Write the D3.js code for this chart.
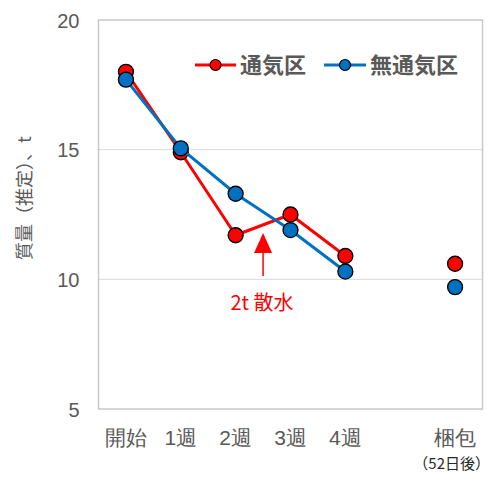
<!DOCTYPE html>
<html>
<head>
<meta charset="utf-8">
<script src="https://cdn.jsdelivr.net/npm/d3@7/dist/d3.min.js"></script>
<style>
  html, body { margin: 0; padding: 0; background: #fff; }
  svg { display: block; font-family: "Noto Sans CJK JP", "Noto Sans", sans-serif; }
</style>
</head>
<body>
<svg id="chart" width="492" height="477"></svg>
<script>
// Categories (an empty slot separates 4週 from 梱包)
const categories = ["開始", "1週", "2週", "3週", "4週", "", "梱包"];
const seriesNames = ["通気区", "無通気区"];
const ventilated   = [18.0, 14.9, 11.7, 12.5, 10.9, null, 10.6];
const unventilated = [17.7, 15.05, 13.3, 11.9, 10.3, null, 9.7];
const yTicks = [5, 10, 15, 20];
const colors = ["#FF0000", "#0070C0"];

const svg = d3.select("#chart");
const plot = { left: 98.5, right: 482.5, top: 20, bottom: 409 };

const x = d3.scaleBand().domain(d3.range(categories.length))
  .range([plot.left, plot.right]).padding(0);
const cx = i => x(i) + x.bandwidth() / 2;
const y = d3.scaleLinear().domain([5, 20]).range([plot.bottom, plot.top]);

// Gridlines
svg.append("g").selectAll("line").data(yTicks.filter(t => t > 5 && t < 20)).join("line")
  .attr("x1", plot.left).attr("x2", plot.right)
  .attr("y1", d => y(d)).attr("y2", d => y(d))
  .attr("stroke", "#d9d9d9").attr("stroke-width", 1);

// Plot frame
svg.append("rect")
  .attr("x", plot.left).attr("y", plot.top)
  .attr("width", plot.right - plot.left).attr("height", plot.bottom - plot.top)
  .attr("fill", "none").attr("stroke", "#c8c8c8").attr("stroke-width", 1.5);

// Y axis labels
const yAxis = d3.axisLeft(y).tickValues(yTicks).tickSize(0).tickPadding(19);
svg.append("g").attr("transform", `translate(${plot.left},0)`).call(yAxis)
  .call(g => g.select(".domain").remove())
  .call(g => g.selectAll("text").attr("font-size", 20).attr("fill", "#595959")
    .attr("dy", "0.36em"));

// X axis labels
const xAxis = d3.axisBottom(x).tickFormat(i => categories[i]).tickSize(0);
svg.append("g").attr("transform", `translate(0,${plot.bottom})`).call(xAxis)
  .call(g => g.select(".domain").remove())
  .call(g => g.selectAll("text").attr("font-size", 21).attr("fill", "#595959")
    .attr("y", 36).attr("dy", null));

// Sub-label under 梱包, kept inside the right edge
svg.append("text")
  .attr("x", 490).attr("y", 469)
  .attr("text-anchor", "end").attr("font-size", 15).attr("fill", "#262626")
  .text("（52日後）");

// Y axis title
svg.append("text")
  .attr("transform", `translate(31,198) rotate(-90)`)
  .attr("text-anchor", "middle").attr("font-size", 18).attr("fill", "#595959")
  .text("質量（推定）、t");

// Series
const series = [ventilated, unventilated];
const line = d3.line().defined(d => d.v != null).x(d => cx(d.i)).y(d => y(d.v));
series.forEach((vals, s) => {
  const pts = vals.map((v, i) => ({ v, i }));
  const g = svg.append("g");
  g.append("path").datum(pts).attr("d", line)
    .attr("fill", "none").attr("stroke", colors[s]).attr("stroke-width", 3)
    .attr("stroke-linejoin", "round");
  g.selectAll("circle").data(pts.filter(d => d.v != null)).join("circle")
    .attr("cx", d => cx(d.i)).attr("cy", d => y(d.v)).attr("r", 7.5)
    .attr("fill", colors[s]).attr("stroke", "#000").attr("stroke-width", 1.3);
});

// Annotation: watering between 2週 and 3週
const ax = (cx(2) + cx(3)) / 2;
const ann = svg.append("g").attr("fill", "#FF0000");
ann.append("line").attr("x1", ax).attr("x2", ax).attr("y1", 250).attr("y2", 276)
  .attr("stroke", "#FF0000").attr("stroke-width", 1.5);
ann.append("path").attr("d", `M${ax},233 L${ax - 9},253 L${ax + 9},253 Z`);
ann.append("text").attr("x", ax - 1).attr("y", 310).attr("text-anchor", "middle")
  .attr("font-size", 20).text("2t 散水");

// Legend
const legend = [{ x0: 195, x1: 236, tx: 240 }, { x0: 324, x1: 366, tx: 370 }];
legend.forEach((l, s) => {
  const g = svg.append("g");
  g.append("line").attr("x1", l.x0).attr("x2", l.x1).attr("y1", 65).attr("y2", 65)
    .attr("stroke", colors[s]).attr("stroke-width", 3);
  g.append("circle").attr("cx", (l.x0 + l.x1) / 2).attr("cy", 65).attr("r", 5.5)
    .attr("fill", colors[s]).attr("stroke", "#000").attr("stroke-width", 1.2);
  g.append("text").attr("x", l.tx).attr("y", 72.5).attr("font-size", 22)
    .attr("font-weight", "bold").attr("fill", "#595959").text(seriesNames[s]);
});
</script>
</body>
</html>
